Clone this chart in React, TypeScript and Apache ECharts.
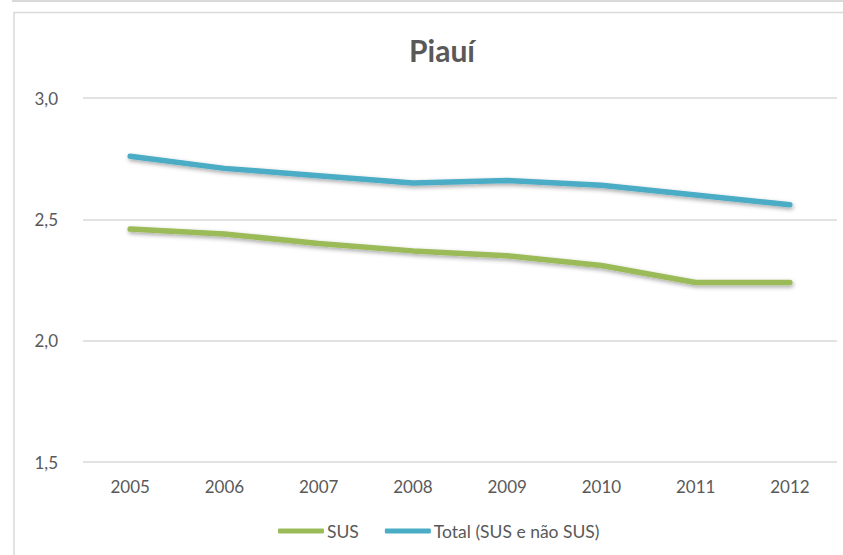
import React, { useEffect, useRef } from "react";
import * as echarts from "echarts";

const years = ["2005", "2006", "2007", "2008", "2009", "2010", "2011", "2012"];
const susValues = [2.46, 2.44, 2.4, 2.37, 2.35, 2.31, 2.24, 2.24];
const totalValues = [2.76, 2.71, 2.68, 2.65, 2.66, 2.64, 2.6, 2.56];
const seriesNames = ["SUS", "Total (SUS e não SUS)"];
const chartTitle = "Piauí";

const FONT = "Lato, 'Open Sans', sans-serif";

export default function App() {
  const ref = useRef<HTMLDivElement>(null);
  useEffect(() => {
    if (!ref.current) return;
    const chart = echarts.init(ref.current, null, { renderer: "svg" });
    const lineShadow = {
      shadowColor: "rgba(0,0,0,0.35)",
      shadowBlur: 4,
      shadowOffsetX: 1,
      shadowOffsetY: 2,
    };
    chart.setOption({
      animation: false,
      backgroundColor: "#ffffff",
      title: {
        text: chartTitle,
        left: 437,
        textAlign: "center",
        top: 30,
        textStyle: { fontFamily: FONT, fontSize: 30, fontWeight: "bold", color: "#595959" },
      },
      graphic: [
        { type: "line", shape: { x1: 12, y1: 1, x2: 843, y2: 1 }, style: { stroke: "#d9d9d9", lineWidth: 2 } },
        { type: "rect", shape: { x: 14, y: 12.5, width: 860, height: 600 }, style: { fill: "none", stroke: "#d9d9d9", lineWidth: 1.5 } },
      ],
      grid: { left: 83, right: 6, top: 98, bottom: 93, containLabel: false },
      xAxis: {
        type: "category",
        data: years,
        boundaryGap: true,
        axisLine: { show: false },
        axisTick: { show: false },
        axisLabel: { margin: 16, color: "#595959", fontSize: 17, fontFamily: FONT },
      },
      yAxis: {
        type: "value",
        min: 1.5,
        max: 3.0,
        interval: 0.5,
        axisLine: { show: false },
        axisTick: { show: false },
        splitLine: { lineStyle: { color: "#d9d9d9", width: 1.5 } },
        axisLabel: {
          margin: 25,
          color: "#595959",
          fontSize: 17,
          fontFamily: FONT,
          formatter: (v: number) => v.toFixed(1).replace(".", ","),
        },
      },
      legend: {
        top: 517,
        left: 273,
        itemWidth: 46,
        itemHeight: 5,
        itemGap: 26,
        icon: "roundRect",
        textStyle: { color: "#595959", fontSize: 17.5, fontFamily: FONT, padding: [0, 0, 0, -2] },
        data: seriesNames,
      },
      series: [
        {
          name: seriesNames[0],
          type: "line",
          data: susValues,
          symbol: "none",
          color: "#9BBB59",
          lineStyle: { width: 5.5, color: "#9BBB59", cap: "round", join: "round", ...lineShadow },
        },
        {
          name: seriesNames[1],
          type: "line",
          data: totalValues,
          symbol: "none",
          color: "#4BACC6",
          lineStyle: { width: 5.5, color: "#4BACC6", cap: "round", join: "round", ...lineShadow },
        },
      ],
    });
    return () => chart.dispose();
  }, []);
  return (
    <div
      ref={ref}
      style={{ position: "fixed", left: 0, top: 0, width: 843, height: 555 }}
    />
  );
}
